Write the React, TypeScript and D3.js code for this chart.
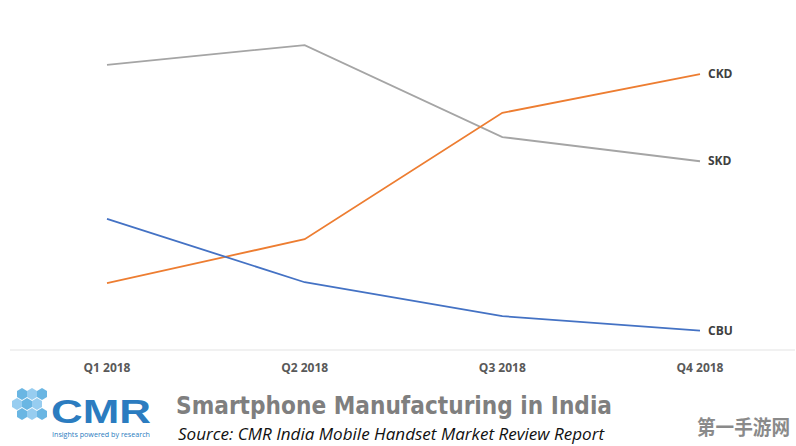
import React from "react";
import * as d3 from "d3";

const categories = ["Q1 2018", "Q2 2018", "Q3 2018", "Q4 2018"];
const skd = [58.9, 63.0, 44.0, 39.0];
const ckd = [13.8, 22.9, 49.0, 57.0];
const cbu = [27.1, 14.0, 7.0, 4.0];
const seriesNames = ["SKD", "CKD", "CBU"];
const seriesColors = ["#a5a5a5", "#ed7d31", "#4472c4"];

const W = 796;
const H = 446;

export default function App() {
  const x = d3.scalePoint<string>().domain(categories).range([107, 700]);
  const y = d3.scaleLinear().domain([0, 100]).range([350, -134]);
  const line = d3
    .line<number>()
    .x((_, i) => x(categories[i]) as number)
    .y((d) => y(d));
  const all = [skd, ckd, cbu];

  return (
    <svg
      width={W}
      height={H}
      style={{ position: "absolute", left: 0, top: 0, background: "#fff" }}
      fontFamily="'Open Sans', 'Liberation Sans', sans-serif"
    >
      <rect x={0} y={0} width={W} height={H} fill="#fff" />
      <line x1={10} x2={795} y1={y(0)} y2={y(0)} stroke="#e3e3e3" strokeWidth={1} />
      {categories.map((c) => (
        <text
          key={c}
          x={x(c)}
          y={372}
          textAnchor="middle"
          fontSize={12}
          fontWeight="bold"
          fill="#595959"
        >
          {c}
        </text>
      ))}
      {all.map((s, i) => (
        <path key={i} d={line(s) || ""} fill="none" stroke={seriesColors[i]} strokeWidth={1.8} />
      ))}
      {all.map((s, i) => (
        <text
          key={"l" + i}
          x={(x(categories[3]) as number) + 8}
          y={y(s[3]) + 4}
          fontSize={12}
          fontWeight="bold"
          fill="#404040"
        >
          {seriesNames[i]}
        </text>
      ))}
      {/* Logo */}
      <g>
        {[
          [22, 393], [32, 393], [42, 393],
          [17, 403], [27, 403], [37, 403],
          [22, 413], [32, 413], [42, 413],
        ].map((p, i) => (
          <polygon
            key={i}
            points={`${p[0]},${p[1] - 5} ${p[0] + 5},${p[1] - 2} ${p[0] + 5},${p[1] + 4} ${p[0]},${p[1] + 7} ${p[0] - 5},${p[1] + 4} ${p[0] - 5},${p[1] - 2}`}
            fill={i % 2 === 0 ? "#5aaee0" : "#8cc8ee"}
            opacity={0.9}
          />
        ))}
        <text x={51} y={423} fontSize={34} fontWeight="bold" fill="#2b7cc0" textLength={100} lengthAdjust="spacingAndGlyphs" fontFamily="'Liberation Sans', Arial, sans-serif">
          CMR
        </text>
        <text x={52} y={437} fontSize={7} fill="#2b7cc0" textLength={98} lengthAdjust="spacingAndGlyphs">
          Insights powered by research
        </text>
      </g>
      <text
        x={176}
        y={414}
        fontSize={24}
        fontWeight="bold"
        fill="#7f7f7f"
        textLength={436}
        lengthAdjust="spacingAndGlyphs"
        fontFamily="'DejaVu Sans', sans-serif"
      >
        Smartphone Manufacturing in India
      </text>
      <text
        x={178}
        y={440}
        fontSize={17}
        fontStyle="italic"
        fill="#111"
        textLength={426}
        lengthAdjust="spacingAndGlyphs"
        fontFamily="'Open Sans', sans-serif"
      >
        Source:  CMR India Mobile Handset Market Review Report
      </text>
      <text
        x={697}
        y={435}
        fontSize={20}
        fontWeight="bold"
        fill="#8a8a8a"
        textLength={93}
        lengthAdjust="spacingAndGlyphs"
        fontFamily="'Noto Sans CJK SC', sans-serif"
      >
        第一手游网
      </text>
    </svg>
  );
}
